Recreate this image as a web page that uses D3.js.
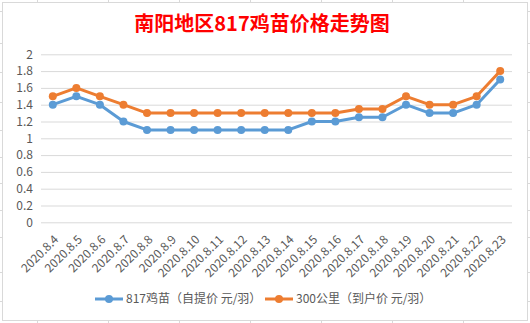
<!DOCTYPE html>
<html><head><meta charset="utf-8">
<script src="https://cdn.jsdelivr.net/npm/d3@7"></script>
<style>html,body{margin:0;padding:0;background:#fff;overflow:hidden}</style>
</head><body><svg id="c" width="530" height="323"></svg>
<script>
const title = "南阳地区817鸡苗价格走势图";
const categories = ["2020.8.4","2020.8.5","2020.8.6","2020.8.7","2020.8.8","2020.8.9","2020.8.10","2020.8.11","2020.8.12","2020.8.13","2020.8.14","2020.8.15","2020.8.16","2020.8.17","2020.8.18","2020.8.19","2020.8.20","2020.8.21","2020.8.22","2020.8.23"];
const seriesNames = ["817鸡苗（自提价 元/羽）","300公里（到户价 元/羽）"];
const chick817 = [1.4,1.5,1.4,1.2,1.1,1.1,1.1,1.1,1.1,1.1,1.1,1.2,1.2,1.25,1.25,1.4,1.3,1.3,1.4,1.7];
const km300 = [1.5,1.6,1.5,1.4,1.3,1.3,1.3,1.3,1.3,1.3,1.3,1.3,1.3,1.35,1.35,1.5,1.4,1.4,1.5,1.8];
const yTicks = [0,0.2,0.4,0.6,0.8,1,1.2,1.4,1.6,1.8,2];
const colors = ["#5B9BD5","#ED7D31"];

const svg = d3.select("#c");
const font = "'Noto Sans CJK SC', 'Microsoft YaHei', sans-serif";

// spreadsheet decorations outside chart
const sheetCols = [37,108,179,250,321,392,463];
const sheetRows = [11,43,72,102,130,157,183,210,237,272,301];
const deco = svg.append("g").attr("stroke","#d9d9d9").attr("stroke-width",1);
sheetCols.forEach(x=>{
  deco.append("line").attr("x1",x+0.5).attr("x2",x+0.5).attr("y1",0).attr("y2",3);
  deco.append("line").attr("x1",x+0.5).attr("x2",x+0.5).attr("y1",320).attr("y2",323);
});
sheetRows.forEach(y=>{
  deco.append("line").attr("x1",0).attr("x2",3).attr("y1",y+0.5).attr("y2",y+0.5);
  deco.append("line").attr("x1",527).attr("x2",530).attr("y1",y+0.5).attr("y2",y+0.5);
});
// chart border
svg.append("rect").attr("x",2.5).attr("y",2.5).attr("width",525).attr("height",318)
  .attr("fill","#fff").attr("stroke","#d9d9d9").attr("stroke-width",1);

// title
svg.append("text").attr("x",262).attr("y",31).attr("text-anchor","middle")
  .attr("font-family",font).attr("font-weight","bold").attr("font-size",20)
  .attr("fill","#FF0000").text(title);

const x = d3.scalePoint().domain(categories).range([52.8,500.2]);
const y = d3.scaleLinear().domain([0,2]).range([222.3,54.3]);

// gridlines
const yAxis = d3.axisLeft(y).tickValues(yTicks).tickSize(-(512-41)).tickFormat(d=>String(d));
const gy = svg.append("g").attr("transform","translate(41,0)").call(yAxis);
gy.select(".domain").remove();
gy.selectAll(".tick line").attr("stroke","#d9d9d9").attr("stroke-width",1);
gy.selectAll(".tick text").attr("x",-8).attr("fill","#595959").attr("font-size",12).attr("font-family",font);

// x labels
const xAxis = d3.axisBottom(x).tickSize(0);
const gx = svg.append("g").attr("transform","translate(0,222.3)").call(xAxis);
gx.select(".domain").remove();
gx.selectAll(".tick text").attr("fill","#595959").attr("font-size",12).attr("font-family",font)
  .attr("text-anchor","end").attr("dy",0).attr("y",0)
  .attr("transform","translate(6,18) rotate(-45)");

// lines
const line = d3.line().x((d,i)=>x(categories[i])).y(d=>y(d));
[chick817, km300].forEach((s,k)=>{
  svg.append("path").datum(s).attr("d",line).attr("fill","none")
    .attr("stroke",colors[k]).attr("stroke-width",3).attr("stroke-linejoin","round");
  svg.append("g").selectAll("circle").data(s).join("circle")
    .attr("cx",(d,i)=>x(categories[i])).attr("cy",d=>y(d)).attr("r",4)
    .attr("fill",colors[k]);
});

// legend
const legX = [95,265];
seriesNames.forEach((n,k)=>{
  const g = svg.append("g").attr("transform",`translate(${legX[k]},299)`);
  g.append("line").attr("x1",0).attr("x2",28).attr("y1",0).attr("y2",0)
    .attr("stroke",colors[k]).attr("stroke-width",3);
  g.append("circle").attr("cx",14).attr("cy",0).attr("r",4).attr("fill",colors[k]);
  g.append("text").attr("x",31).attr("y",0).attr("dy","0.35em")
    .attr("font-family",font).attr("font-size",12).attr("fill","#595959").text(n);
});
</script></body></html>
